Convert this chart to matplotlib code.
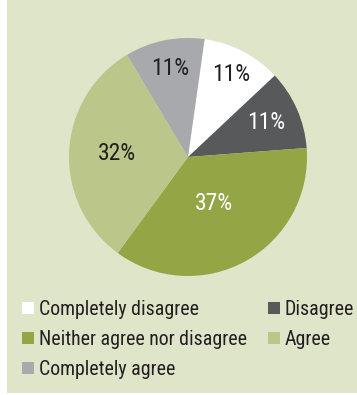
import matplotlib.pyplot as plt
import numpy as np
from matplotlib.patches import Rectangle

# categories and shares (%)
categories = ['Completely disagree', 'Disagree', 'Neither agree nor disagree',
              'Agree', 'Completely agree']
shares = [11, 11, 37, 32, 11]

colours = ['#ffffff', '#58595b', '#94a545', '#bac68a', '#a7a9ac']
label_colours = ['#231f20', '#ffffff', '#ffffff', '#231f20', '#231f20']
label_dist = [0.78, 0.72, 0.45, 0.6, 0.76]

plt.rcParams['font.family'] = ['Roboto Condensed', 'Liberation Sans Narrow', 'Liberation Sans']

fig = plt.figure(figsize=(3.57, 3.95), dpi=100, facecolor='white')
# green panel behind everything
fig.patches.append(Rectangle((7 / 357, 2 / 395), 1, 1, transform=fig.transFigure,
                             facecolor='#dfe5c9', edgecolor='none', zorder=-1))

ax = fig.add_axes([(188 - 119) / 357, 1 - (157 + 119) / 395, 238 / 357, 238 / 395])
wedges, _ = ax.pie(shares, colors=colours, startangle=82, counterclock=False,
                   wedgeprops=dict(linewidth=0))
ax.set_xlim(-1, 1)
ax.set_ylim(-1, 1)
ax.set_aspect('equal')

# percentage labels, placed along each wedge's middle angle
for w, s, d, c in zip(wedges, shares, label_dist, label_colours):
    mid = np.deg2rad((w.theta1 + w.theta2) / 2)
    ax.text(d * np.cos(mid), d * np.sin(mid), f'{s}%', ha='center', va='center',
            fontsize=17, color=c)

order = [0, 2, 4, 1, 3]
leg = fig.legend([wedges[i] for i in order], [categories[i] for i in order],
                 ncol=2, loc='upper left', bbox_to_anchor=(22 / 357, 1 - 300 / 395),
                 frameon=False, fontsize=14.3, handlelength=0.6, handleheight=0.6,
                 handletextpad=0.25, columnspacing=1.05, labelspacing=0.55,
                 borderpad=0, borderaxespad=0, labelcolor='#231f20')

fig.savefig('out.png', dpi=100, facecolor=fig.get_facecolor())
